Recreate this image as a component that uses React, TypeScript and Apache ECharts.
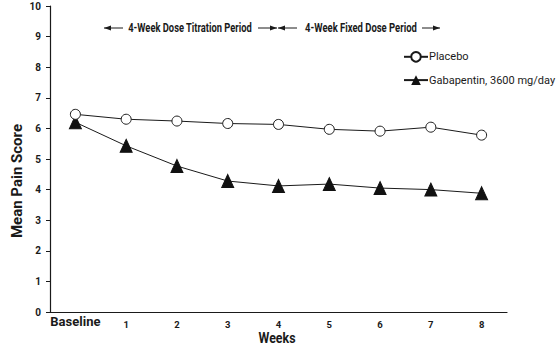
import React, { useEffect, useRef } from "react";
import * as echarts from "echarts";

const categories = ["Baseline", "1", "2", "3", "4", "5", "6", "7", "8"];
const placebo = [6.46, 6.3, 6.24, 6.16, 6.13, 5.97, 5.91, 6.04, 5.78];
const gabapentin = [6.2, 5.43, 4.77, 4.28, 4.12, 4.18, 4.05, 4.0, 3.88];
const yTicks = [0, 10, 1];
const periodLabels = ["4-Week Dose Titration Period", "4-Week Fixed Dose Period"];
const seriesNames = ["Placebo", "Gabapentin, 3600 mg/day"];
const axisTitles = ["Weeks", "Mean Pain Score"];

const FONT = "Roboto, 'Liberation Sans', Arial, sans-serif";
const INK = "#1a1a1a";

function measure(text: string, font: string) {
  const ctx = document.createElement("canvas").getContext("2d");
  if (!ctx) return text.length * 6;
  ctx.font = font;
  return ctx.measureText(text).width;
}

function fitText(text: string, cx: number, cy: number, size: number, target: number, rotation = 0) {
  const w = measure(text, `bold ${size}px Roboto`);
  const s = w > 0 ? Math.min(1, target / w) : 1;
  return {
    type: "text",
    x: cx,
    y: cy,
    rotation,
    scaleX: s,
    style: {
      text,
      fontFamily: FONT,
      fontSize: size,
      fontWeight: "bold",
      fill: INK,
      align: "center",
      verticalAlign: "middle",
    },
    silent: true,
  };
}

function arrowHead(x: number, y: number, dir: number) {
  return {
    type: "polygon",
    shape: { points: [[x, y], [x - dir * 7, y - 2.5], [x - dir * 7, y + 2.5]] },
    style: { fill: INK },
    silent: true,
  };
}
function hline(x1: number, x2: number, y: number) {
  return {
    type: "line",
    shape: { x1, y1: y, x2, y2: y },
    style: { stroke: INK, lineWidth: 1 },
    silent: true,
  };
}

export default function App() {
  const ref = useRef<HTMLDivElement>(null);
  useEffect(() => {
    if (!ref.current) return;
    const chart = echarts.init(ref.current, undefined, { renderer: "svg" });
    const ay = 28;
    chart.setOption({
      animation: false,
      backgroundColor: "#fff",
      textStyle: { fontFamily: FONT },
      grid: { left: 50, right: 50, top: 6, bottom: 35, containLabel: false, outerBoundsMode: "none" },
      legend: {
        orient: "vertical",
        left: 403,
        top: 51,
        padding: 0,
        itemWidth: 24,
        itemHeight: 12,
        itemGap: 12,
        data: seriesNames,
        textStyle: { fontFamily: FONT, fontSize: 11, color: INK, padding: [0, 0, 0, -4] },
      },
      xAxis: {
        type: "category",
        data: categories,
        boundaryGap: true,
        axisLine: { lineStyle: { color: INK, width: 1.2 } },
        axisTick: { show: false },
        axisLabel: {
          margin: 3,
          interval: 0,
          formatter: (v: string) => (v === "Baseline" ? "{b|" + v + "}" : "{n|" + v + "}"),
          rich: {
            b: { fontFamily: FONT, fontSize: 13, fontWeight: "bold", color: INK },
            n: { fontFamily: FONT, fontSize: 9.5, fontWeight: "bold", color: INK, padding: [4, 0, 0, 0] },
          },
        },
      },
      yAxis: {
        type: "value",
        min: yTicks[0],
        max: yTicks[1],
        interval: yTicks[2],
        splitLine: { show: false },
        axisLine: { show: true, lineStyle: { color: INK, width: 1.2 } },
        axisTick: { show: true, length: 4, lineStyle: { color: INK } },
        axisLabel: { margin: 9, fontFamily: FONT, fontSize: 10, fontWeight: "bold", color: INK },
      },
      graphic: [
        fitText(axisTitles[1], 17, 181, 15, 140, Math.PI / 2),
        fitText(axisTitles[0], 277, 338, 14, 37),
        arrowHead(104, ay, -1),
        hline(104, 123, ay),
        fitText(periodLabels[0], 190, ay, 12, 124),
        hline(258, 277, ay),
        arrowHead(277, ay, 1),
        arrowHead(278, ay, -1),
        hline(278, 297, ay),
        fitText(periodLabels[1], 361, ay, 12, 112),
        hline(422, 440, ay),
        arrowHead(440, ay, 1),
      ],
      series: [
        {
          name: seriesNames[0],
          type: "line",
          data: placebo,
          symbol: "circle",
          symbolSize: 10,
          lineStyle: { color: INK, width: 1 },
          itemStyle: { color: "#fff", borderColor: INK, borderWidth: 1 },
          z: 3,
        },
        {
          name: seriesNames[1],
          type: "line",
          data: gabapentin,
          symbol: "triangle",
          symbolSize: [12, 13],
          lineStyle: { color: INK, width: 1 },
          itemStyle: { color: "#111", borderColor: "#111" },
          z: 2,
        },
      ],
    });
    return () => chart.dispose();
  }, []);
  return (
    <div
      ref={ref}
      style={{ position: "absolute", left: 0, top: 0, width: 557, height: 347, overflow: "hidden" }}
    />
  );
}
